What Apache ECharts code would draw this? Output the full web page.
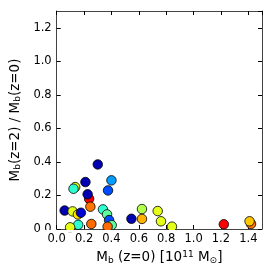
<!DOCTYPE html>
<html>
<head>
<meta charset="utf-8">
<script src="https://cdn.jsdelivr.net/npm/echarts@6/dist/echarts.min.js"></script>
<style>html,body{margin:0;padding:0;background:#fff;}#c{width:273px;height:273px;}</style>
</head>
<body>
<div id="c"></div>
<script>
// M_b(z=0) [10^11 Msun]
var mbz0 = [0.237, 0.300, 0.210, 0.400, 0.135, 0.123, 0.375, 0.226, 0.246, 0.058,
            0.116, 0.155, 0.177, 0.338, 0.368, 0.383, 0.402, 0.372, 0.253, 0.157,
            0.098, 0.546, 0.623, 0.623, 0.738, 0.762, 0.842, 1.221, 1.420, 1.409];
// M_b(z=2) / M_b(z=0)
var ratio = [0.180, 0.385, 0.280, 0.290, 0.250, 0.240, 0.230, 0.207, 0.133, 0.110,
             0.105, 0.087, 0.097, 0.117, 0.087, 0.053, 0.023, 0.014, 0.030, 0.025,
             0.010, 0.061, 0.119, 0.060, 0.107, 0.046, 0.014, 0.028, 0.030, 0.046];
// colour value (jet colormap, 0..1)
var colorVal = [0.88, 0.05, 0.05, 0.28, 0.60, 0.42, 0.20, 0.05, 0.76, 0.05,
                0.60, 0.65, 0.08, 0.42, 0.47, 0.20, 0.47, 0.77, 0.77, 0.42,
                0.60, 0.05, 0.55, 0.70, 0.60, 0.60, 0.60, 0.88, 0.76, 0.68];
var xTicks = [0.0, 0.2, 0.4, 0.6, 0.8, 1.0, 1.2, 1.4];
var yTicks = [0.0, 0.2, 0.4, 0.6, 0.8, 1.0, 1.2];

var data = mbz0.map(function (x, i) { return [x, ratio[i], colorVal[i]]; });
var font = 'DejaVu Sans';
var lineCol = '#444';
var rich = {
  n: {fontFamily: font, fontSize: 13.5, color: '#000'},
  s: {fontFamily: font, fontSize: 9, color: '#000', padding: [6, 0, 0, 0]},
  p: {fontFamily: font, fontSize: 9, color: '#000', padding: [0, 0, 6, 0]}
};
function tickFmt(v) { return (Math.round(v * 10) / 10).toFixed(1); }
function axisCommon(extra, labelMargin) {
  var o = {
    type: 'value',
    splitLine: {show: false},
    axisLine: {show: true, onZero: false, lineStyle: {color: lineCol, width: 1}},
    axisTick: {show: true, inside: true, length: 4, lineStyle: {color: '#000', width: 1}},
    axisLabel: {show: true, fontFamily: font, fontSize: 11.5, color: '#000', margin: labelMargin,
      showMaxLabel: false, formatter: tickFmt}
  };
  for (var k in extra) o[k] = extra[k];
  return o;
}
var chart = echarts.init(document.getElementById('c'), null, {renderer: 'canvas'});
chart.setOption({
  animation: false,
  backgroundColor: '#fff',
  grid: {left: 43, top: 11, right: 11, bottom: 44, containLabel: false},
  xAxis: [
    axisCommon({min: 0, max: 1.5, interval: 0.2, position: 'bottom',
      name: '{n|M}{s|b}{n| (z=0) [10}{p|11}{n| M}{s|⊙}{n|]}',
      nameLocation: 'middle', nameGap: 14, nameTextStyle: {rich: rich}}, 4),
    axisCommon({min: 0, max: 1.5, interval: 0.2, position: 'top',
      axisLabel: {show: false}}, 4)
  ],
  yAxis: [
    axisCommon({min: 0, max: 1.3, interval: 0.2, position: 'left',
      name: '{n|M}{s|b}{n|(z=2) / M}{s|b}{n|(z=0)}',
      nameLocation: 'middle', nameGap: 24, nameRotate: 90, nameTextStyle: {rich: rich}}, 5),
    axisCommon({min: 0, max: 1.3, interval: 0.2, position: 'right',
      axisLabel: {show: false}}, 5)
  ],
  visualMap: {
    show: false, type: 'continuous', dimension: 2, min: 0, max: 1,
    inRange: {color: ['#00007f', '#0000ff', '#007fff', '#00ffff', '#7fff7f', '#ffff00', '#ff7f00', '#ff0000', '#7f0000']}
  },
  series: [{
    type: 'scatter',
    xAxisIndex: 0, yAxisIndex: 0,
    symbol: 'circle',
    symbolSize: 9.5,
    itemStyle: {borderColor: '#000', borderWidth: 0.8, opacity: 1},
    data: data,
    z: 2
  }],
  graphic: [{
    type: 'rect', z: 100,
    shape: {x: 40, y: 230, width: 226, height: 2.6},
    style: {fill: '#fff'}
  }]
});
</script>
</body>
</html>
